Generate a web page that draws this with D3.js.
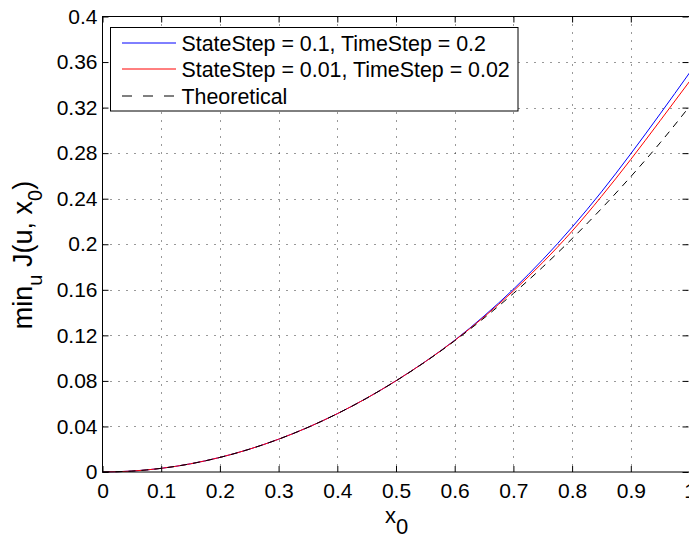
<!DOCTYPE html>
<html><head><meta charset="utf-8">
<script src="https://cdn.jsdelivr.net/npm/d3@7/dist/d3.min.js"></script>
<style>
body{margin:0;background:#fff;}
svg{display:block;}
text{font-family:"Liberation Sans",Arial,Helvetica,sans-serif;fill:#000;}
</style>
</head><body>
<svg id="chart" width="689" height="537"></svg>
<script>
// ---- data ----
const xValues = [0,0.05,0.1,0.15,0.2,0.25,0.3,0.35,0.4,0.45,0.5,0.55,0.6,0.65,0.7,0.75,0.8,0.85,0.9,0.95,1.0];
const coarseSeries = [0,0.0008,0.0032,0.0072,0.0128,0.0200,0.0288,0.0392,0.0512,0.0648,0.0801,0.0970,0.1157,0.1370,0.1605,0.1865,0.2150,0.2460,0.2795,0.3145,0.3505];
const fineSeries   = [0,0.0008,0.0032,0.0072,0.0128,0.0200,0.0288,0.0392,0.0512,0.0648,0.0801,0.0969,0.1155,0.1362,0.1590,0.1840,0.2115,0.2420,0.2745,0.3085,0.3430];
const theoretical  = [0,0.0008,0.0032,0.0072,0.0128,0.0200,0.0288,0.0392,0.0512,0.0648,0.0800,0.0968,0.1152,0.1352,0.1568,0.1800,0.2049,0.2313,0.2594,0.2891,0.3210];
const seriesNames = ["StateStep = 0.1, TimeStep = 0.2","StateStep = 0.01, TimeStep = 0.02","Theoretical"];
const xTicks = [0,0.1,0.2,0.3,0.4,0.5,0.6,0.7,0.8,0.9,1];
const xTickLabels = ["0","0.1","0.2","0.3","0.4","0.5","0.6","0.7","0.8","0.9","1"];
const yTicks = [0,0.04,0.08,0.12,0.16,0.2,0.24,0.28,0.32,0.36,0.4];
const yTickLabels = ["0","0.04","0.08","0.12","0.16","0.2","0.24","0.28","0.32","0.36","0.4"];

// ---- layout ----
const L = 102.5, R = 689.5, T = 16.5, B = 472;
const svg = d3.select("#chart");
const x = d3.scaleLinear().domain([0,1]).range([L,R]);
const y = d3.scaleLinear().domain([0,0.4]).range([B,T]);

// grid
const grid = svg.append("g").attr("stroke","#333").attr("stroke-width",1).attr("stroke-dasharray","1,7");
grid.selectAll(".gx").data(xTicks.slice(1,-1)).join("line")
  .attr("x1",d=>Math.round(x(d))+0.5).attr("x2",d=>Math.round(x(d))+0.5).attr("y1",T).attr("y2",B);
grid.selectAll(".gy").data(yTicks.slice(1,-1)).join("line")
  .attr("y1",d=>Math.round(y(d))+0.5).attr("y2",d=>Math.round(y(d))+0.5).attr("x1",L).attr("x2",R);

// curves
const pts = s => xValues.map((v,i)=>[v,s[i]]);
const line = d3.line().x(d=>x(d[0])).y(d=>y(d[1])).curve(d3.curveMonotoneX);
svg.append("path").attr("d",line(pts(coarseSeries))).attr("fill","none").attr("stroke","#0000ff").attr("stroke-width",1);
svg.append("path").attr("d",line(pts(fineSeries))).attr("fill","none").attr("stroke","#ff0000").attr("stroke-width",1);
svg.append("path").attr("d",line(pts(theoretical))).attr("fill","none").attr("stroke","#000").attr("stroke-width",1).attr("stroke-dasharray","7,6");

// axes
const fs = "21px";
const ax = svg.append("g").attr("transform",`translate(0,${B})`)
  .call(d3.axisBottom(x).tickValues(xTicks).tickFormat((d,i)=>xTickLabels[i]).tickSizeInner(-6).tickSizeOuter(0).tickPadding(11));
const ay = svg.append("g").attr("transform",`translate(${L},0)`)
  .call(d3.axisLeft(y).tickValues(yTicks).tickFormat((d,i)=>yTickLabels[i]).tickSizeInner(-6).tickSizeOuter(0).tickPadding(5));
const at = svg.append("g").attr("transform",`translate(0,${T})`)
  .call(d3.axisTop(x).tickValues(xTicks).tickFormat("").tickSizeInner(-6).tickSizeOuter(0));
const ar = svg.append("g").attr("transform",`translate(${R-1},0)`)
  .call(d3.axisRight(y).tickValues(yTicks).tickFormat("").tickSizeInner(-6).tickSizeOuter(0));
[ax,ay,at,ar].forEach(g=>{
  g.select(".domain").remove();
  g.selectAll("line").attr("stroke","#000");
  g.selectAll("text").attr("font-size",fs).attr("font-family",null).attr("fill","#000");
});
svg.append("rect").attr("x",L).attr("y",T).attr("width",R-L).attr("height",B-T)
  .attr("fill","none").attr("stroke","#000").attr("stroke-width",1);

// legend
const lg = svg.append("g");
lg.append("rect").attr("x",110.5).attr("y",27.5).attr("width",407.5).attr("height",83.5)
  .attr("fill","#fff").attr("stroke","#000").attr("stroke-width",1);
const styles = [{c:"#0000ff",d:null},{c:"#ff0000",d:null},{c:"#000",d:"10,11"}];
seriesNames.forEach((n,i)=>{
  const yy = Math.round(43 + i*26.3);
  lg.append("line").attr("x1",122).attr("x2",176).attr("y1",yy).attr("y2",yy)
    .attr("stroke",styles[i].c).attr("stroke-width",1).attr("stroke-dasharray",styles[i].d);
  lg.append("text").attr("x",181.5).attr("y",yy+7.6).attr("font-size","21.4px").text(n);
});

// axis labels
const xl = svg.append("text").attr("x",385).attr("y",523).attr("font-size","22px");
xl.append("tspan").text("x");
xl.append("tspan").attr("dy",10.5).text("0");

const yl = svg.append("text").attr("transform","translate(31.5,255) rotate(-90)").attr("text-anchor","middle").attr("font-size","27px");
yl.append("tspan").text("min");
yl.append("tspan").attr("dy",10).attr("font-size","20px").text("u");
yl.append("tspan").attr("dy",-10).text(" J(u, x");
yl.append("tspan").attr("dy",10).attr("font-size","20px").text("0");
yl.append("tspan").attr("dy",-10).text(")");
</script>
</body></html>
